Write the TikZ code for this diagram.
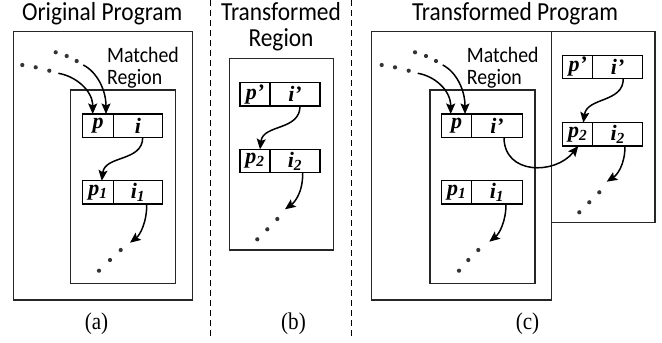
\documentclass[tikz,border=0pt]{standalone}
\usepackage{fontspec}
\usetikzlibrary{arrows.meta}
\newfontfamily\calib[FakeStretch=0.9]{Carlito}
\newfontfamily\tnr{Liberation Serif}
\newfontfamily\tnrs[FakeStretch=0.88]{Liberation Serif}
\newcommand\ttlfnt{\calib\fontsize{26}{31}\selectfont}
\newcommand\mrfnt{\calib\fontsize{22}{26}\selectfont}
\newcommand\labfnt{\tnrs\fontsize{24}{28}\selectfont}
\newcommand\cellfnt{\tnr\bfseries\itshape\fontsize{22}{24}\selectfont}
\tikzset{
  box/.style={draw=black!85, line width=1.3pt, inner sep=0pt, outer sep=0pt},
  cell/.style={draw=black, line width=1.2pt, minimum height=23.3pt, inner sep=0pt, outer sep=0pt, font=\cellfnt},
  arr/.style={line width=1.5pt, -{Stealth[length=10.5pt,width=9pt,inset=2pt]}},
  dotn/.style={circle, fill=black!80, inner sep=0pt, minimum size=4.2pt},
  ttl/.style={font=\ttlfnt, inner sep=0pt, anchor=base},
  mr/.style={font=\mrfnt, inner sep=0pt, anchor=base west},
  lab/.style={font=\labfnt, inner sep=0pt, anchor=base},
  sepline/.style={dash pattern=on 6pt off 4pt, line width=1pt}
}
\begin{document}
\begin{tikzpicture}[x=1pt,y=-1pt]
\useasboundingbox (0,0) rectangle (662,343);

% ---------------- separators ----------------
\coordinate (s1t) at (210.7,0);
\coordinate (s1b) at (210.7,337);
\coordinate (s2t) at (351.7,0);
\coordinate (s2b) at (351.7,337);
\draw[sepline] (s1t) -- (s1b);
\draw[sepline] (s2t) -- (s2b);

% ---------------- panel (a) ----------------
\node[ttl] (tA) at (102.2,20) {Original Program};
\node[box, minimum width=179pt, minimum height=268.3pt] (outA) at (102.8,165.85) {};
\node[box, minimum width=105pt, minimum height=193.3pt] (inA) at (123.2,186.65) {};
\node[mr] (mA1) at (107,62.7) {Matched};
\node[mr] (mA2) at (107,84.3) {Region};
\node[cell, minimum width=30.6pt] (pA) at (98,125.65) {p};
\node[cell, minimum width=49.4pt] (iA) at (138,125.65) {i};
\node[cell, minimum width=30.6pt] (p1A) at (98,192.35) {p\textsubscript{1}};
\node[cell, minimum width=49.4pt] (i1A) at (138,192.35) {i\textsubscript{1}};
\node[dotn] (dA1) at (22.3,65) {};
\node[dotn] (dA2) at (35.7,67.3) {};
\node[dotn] (dA3) at (49.3,70.7) {};
\node[dotn] (dA4) at (55.7,52.3) {};
\node[dotn] (dA5) at (66.7,56) {};
\node[dotn] (dA6) at (76.7,61) {};
\coordinate (sA1) at (58.3,73.3);
\coordinate (sA2) at (83.3,65);
\draw[arr] (sA1) .. controls (75,76) and (92.7,90) .. ([xshift=-5.3pt]pA.north);
\draw[arr] (sA2) .. controls (97,72) and (106,90) .. ([xshift=8pt]pA.north);
\draw[arr] ([xshift=4.7pt]iA.south) .. controls (142.7,162) and (105,155) .. ([xshift=3.7pt]p1A.north);
\node[dotn] (dA7) at (120.7,250) {};
\node[dotn] (dA8) at (110,260) {};
\node[dotn] (dA9) at (99,270.7) {};
\coordinate (eA) at (130,242.7);
\draw[arr] ([xshift=8.7pt]i1A.south) .. controls (147,222) and (140,235) .. (eA);
\node[lab] (lA) at (96.5,329) {(a)};

% ---------------- panel (b) ----------------
\node[ttl] (tB1) at (281,20) {Transformed};
\node[ttl] (tB2) at (281,46.5) {Region};
\node[box, minimum width=104pt, minimum height=191.7pt] (boxB) at (281.3,154.15) {};
\node[cell, minimum width=30pt] (ppB) at (255,94.35) {p’};
\node[cell, minimum width=50pt] (ipB) at (295,94.35) {i’};
\node[cell, minimum width=30pt] (p2B) at (255,161) {p\textsubscript{2}};
\node[cell, minimum width=50pt] (i2B) at (295,161) {i\textsubscript{2}};
\draw[arr] ([xshift=5pt]ipB.south) .. controls (300,131) and (263,124) .. ([xshift=5pt]p2B.north);
\node[dotn] (dB1) at (277.3,219) {};
\node[dotn] (dB2) at (267.3,229.3) {};
\node[dotn] (dB3) at (257.3,239.3) {};
\coordinate (eB) at (285,209.3);
\draw[arr] ([xshift=7.7pt]i2B.south) .. controls (303,192) and (295,202) .. (eB);
\node[lab] (lB) at (293.5,329) {(b)};

% ---------------- panel (c) ----------------
\node[ttl] (tC) at (515,20) {Transformed Program};
\node[box, minimum width=180pt, minimum height=268.3pt] (outC) at (461.7,165.85) {};
\node[box, minimum width=103.3pt, minimum height=191pt] (rC) at (603.35,127.2) {};
\node[box, minimum width=105pt, minimum height=193.3pt] (inC) at (482.5,186.65) {};
\node[mr] (mC1) at (466.7,62.7) {Matched};
\node[mr] (mC2) at (466.7,84.3) {Region};
\node[cell, minimum width=30pt] (pC) at (456.7,125.65) {p};
\node[cell, minimum width=50.6pt] (ipC) at (497,125.65) {i’};
\node[cell, minimum width=30pt] (p1C) at (456.7,192.35) {p\textsubscript{1}};
\node[cell, minimum width=50.6pt] (i1C) at (497,192.35) {i\textsubscript{1}};
\node[dotn] (dC1) at (381.7,65) {};
\node[dotn] (dC2) at (395,67.3) {};
\node[dotn] (dC3) at (408.7,70.7) {};
\node[dotn] (dC4) at (415,52.3) {};
\node[dotn] (dC5) at (426,56) {};
\node[dotn] (dC6) at (436,61) {};
\coordinate (sC1) at (417.7,73.3);
\coordinate (sC2) at (442.7,65);
\draw[arr] (sC1) .. controls (434.4,76) and (450.7,90) .. ([xshift=-6pt]pC.north);
\draw[arr] (sC2) .. controls (456.4,72) and (465,90) .. ([xshift=8.3pt]pC.north);
\node[dotn] (dC7) at (478.3,250) {};
\node[dotn] (dC8) at (468.3,260) {};
\node[dotn] (dC9) at (459,270.7) {};
\coordinate (eC) at (489.3,241.7);
\draw[arr] ([xshift=9pt]i1C.south) .. controls (506,222) and (499,234) .. (eC);
\node[cell, minimum width=30pt] (ppR) at (577.7,67) {p’};
\node[cell, minimum width=50pt] (ipR) at (617.7,67) {i’};
\node[cell, minimum width=30pt] (p2R) at (577.7,134.35) {p\textsubscript{2}};
\node[cell, minimum width=50pt] (i2R) at (617.7,134.35) {i\textsubscript{2}};
\draw[arr] ([xshift=5.6pt]ipR.south) .. controls (623.3,103) and (587,97) .. ([xshift=5.6pt]p2R.north);
\draw[arr] ([xshift=7pt]ipC.south) .. controls (504,175) and (555,175) .. ([xshift=0.6pt]p2R.south);
\node[dotn] (dR1) at (599.3,192.3) {};
\node[dotn] (dR2) at (589.3,202.3) {};
\node[dotn] (dR3) at (579.3,212.3) {};
\coordinate (eR) at (606.7,181.7);
\draw[arr] ([xshift=7.3pt]i2R.south) .. controls (625,165) and (617,175) .. (eR);
\node[lab] (lC) at (527.5,329) {(c)};
\end{tikzpicture}
\end{document}
